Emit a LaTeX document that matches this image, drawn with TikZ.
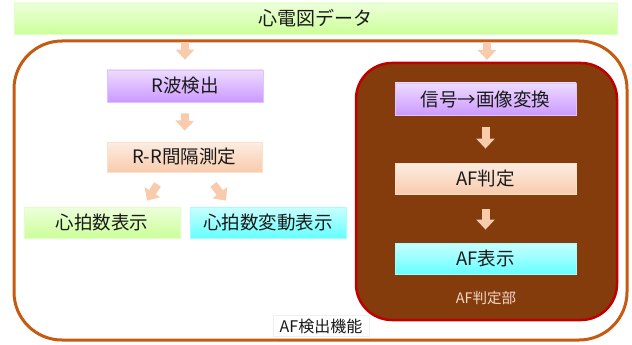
\documentclass[tikz,border=0pt]{standalone}
\usepackage{fontspec}
\setmainfont{Noto Sans CJK JP}
\usetikzlibrary{arrows.meta,calc}
\definecolor{barG}{RGB}{204,255,153}
\definecolor{boxP}{RGB}{204,153,255}
\definecolor{boxO}{RGB}{248,203,173}
\definecolor{boxC}{RGB}{102,255,255}
\definecolor{outerC}{RGB}{197,90,17}
\definecolor{innerF}{RGB}{132,60,12}
\definecolor{innerD}{RGB}{192,0,0}
\definecolor{arrC}{RGB}{248,203,173}
\definecolor{txt}{RGB}{25,25,25}
\definecolor{lbl}{RGB}{245,215,200}
\tikzset{
  x=1pt,y=-1pt,
  procbox/.style={draw=#1!60!white,line width=0.8pt,top color=#1!35!white,middle color=#1,bottom color=#1,
    minimum height=31pt,inner sep=0pt,text=txt,font=\fontsize{18.5}{18.5}\selectfont},
  blockarrow/.style={draw=arrC,line width=8pt,-{Triangle[width=18pt,length=10pt]}},
}
\begin{document}
\begin{tikzpicture}
\useasboundingbox (0,0) rectangle (632,345);
\fill[white] (0,0) rectangle (632,345);
% top bar
\node[procbox=barG,minimum width=603pt,minimum height=31pt,font=\fontsize{19}{19}\selectfont] (top) at (315.5,18.5) {心電図データ};
% outer frame
\draw[outerC,line width=3pt,rounded corners=48pt] (14,41) rectangle (627,340);
% inner frame
\draw[innerD,fill=innerF,line width=2.5pt,rounded corners=36pt] (356,63) rectangle (617,320);
% left column
\node[procbox=boxP,minimum width=156pt,minimum height=32pt] (rwave) at (185,86) {R波検出};
\node[procbox=boxO,minimum width=155pt,minimum height=30pt] (rr) at (184.5,157) {R-R間隔測定};
\node[procbox=barG,minimum width=156pt] (hr) at (102,222.5) {心拍数表示};
\node[procbox=boxC,minimum width=156pt] (hrv) at (268,222.5) {心拍数変動表示};
% right column
\node[procbox=boxP,minimum width=181pt,minimum height=32pt] (conv) at (485.5,99) {信号→画像変換};
\node[procbox=boxO,minimum width=181pt] (afj) at (485.5,178.5) {AF判定};
\node[procbox=boxC,minimum width=181pt] (afd) at (485.5,258.5) {AF表示};
\node[text=lbl,font=\fontsize{14.5}{14.5}\selectfont] (afjp) at (486,298) {AF判定部};
\node[fill=white,draw=black!6,inner xsep=7pt,inner ysep=3pt,text=txt,font=\fontsize{16}{16}\selectfont] (afdet) at (321,326) {AF検出機能};
% arrows
\draw[blockarrow] ($(top.south -| rwave.north)+(0,8)$) -- ($(rwave.north)+(0,-10)$);
\draw[blockarrow] ($(rwave.south)+(0,11)$) -- ($(rr.north)+(0,-11)$);
\draw[blockarrow] ($(rr.south)+(-27,12)$) -- ($(hr.north)+(45,-6)$);
\draw[blockarrow] ($(rr.south)+(29,12)$) -- ($(hrv.north)+(-42,-6)$);
\coordinate (rtop) at (487,63);
\draw[blockarrow] ($(top.south -| rtop)+(0,8)$) -- ($(rtop)+(0,-3)$);
\draw[blockarrow] ($(conv.south)+(0,12)$) -- ($(afj.north)+(0,-14)$);
\draw[blockarrow] ($(afj.south)+(0,15)$) -- ($(afd.north)+(0,-13)$);
\end{tikzpicture}
\end{document}
